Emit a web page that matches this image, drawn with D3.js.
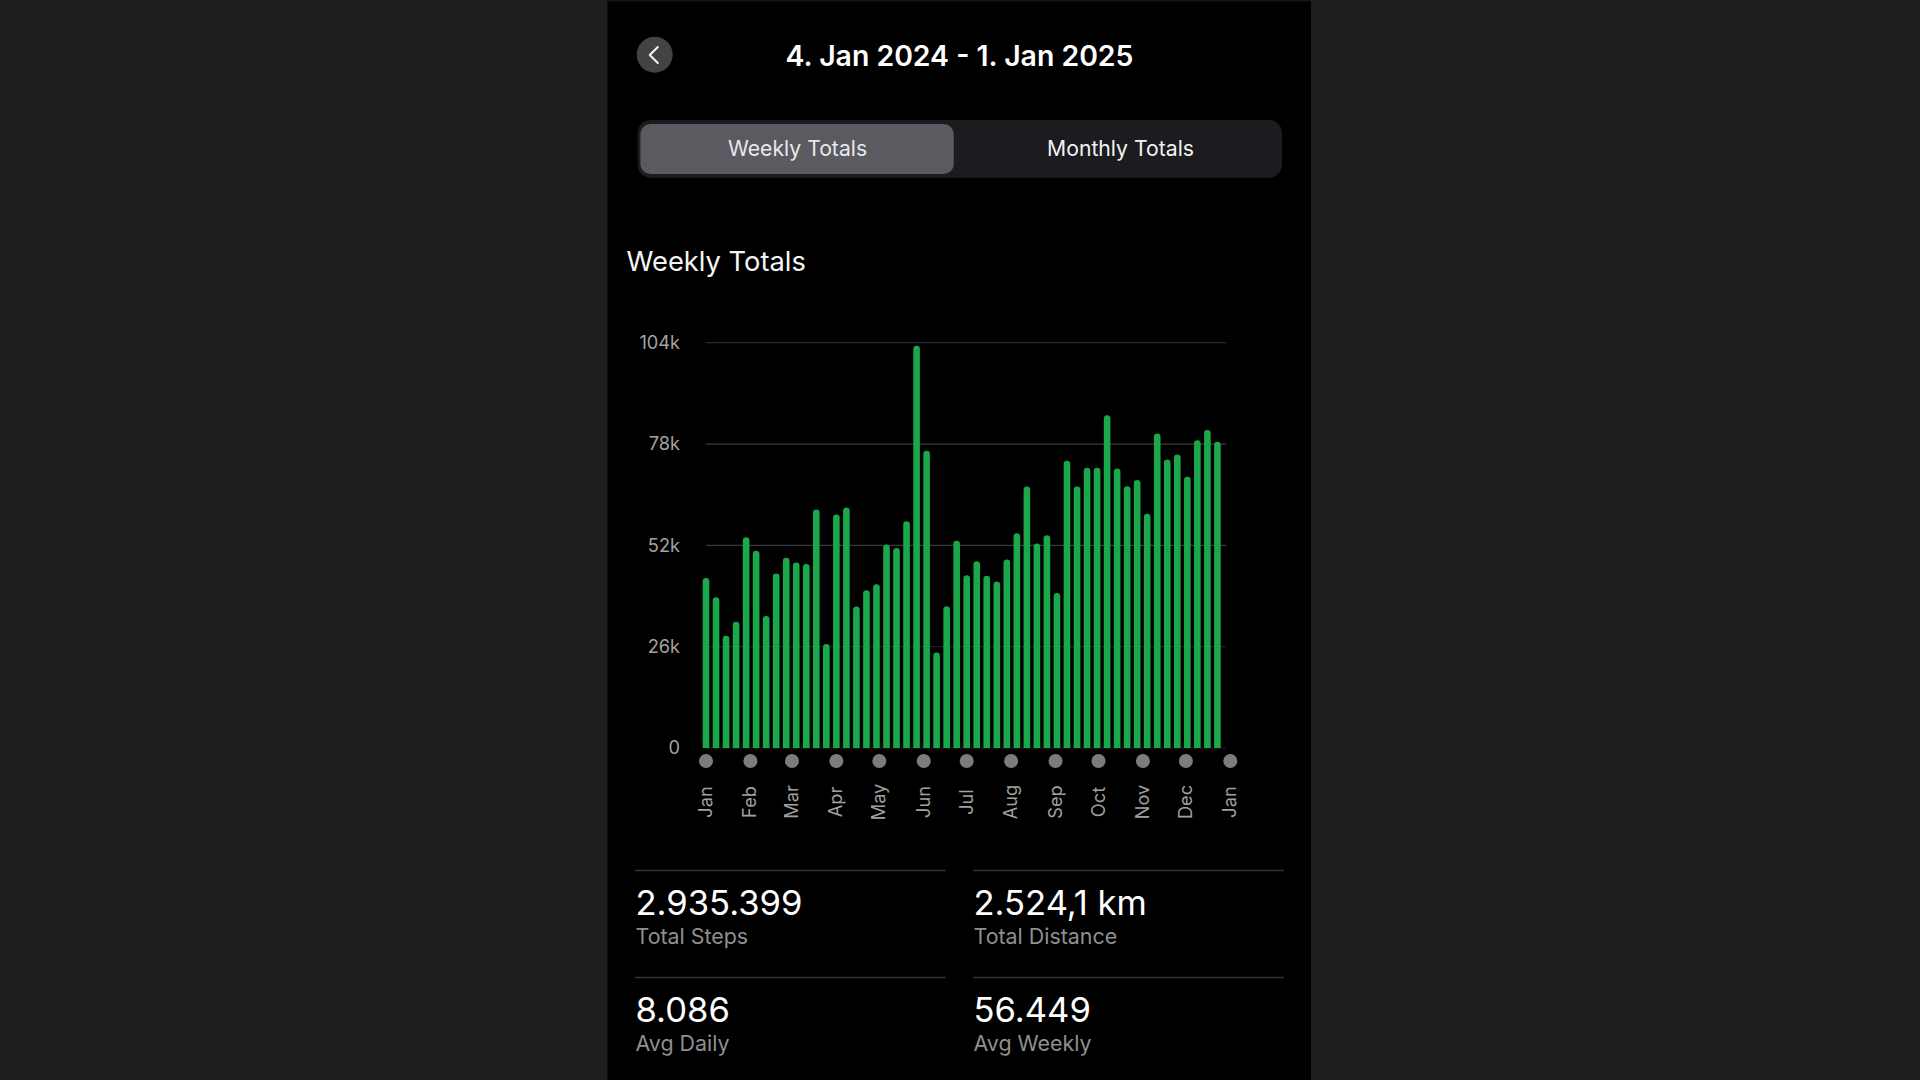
<!DOCTYPE html>
<html><head><meta charset="utf-8">
<script src="https://cdn.jsdelivr.net/npm/d3@7"></script>
<style>
html,body{margin:0;padding:0;background:#1c1e20;overflow:hidden}
svg{display:block}
text{font-family:Inter,Roboto,"Noto Sans",sans-serif}
</style></head><body><svg id="c" width="1920" height="1080"></svg>
<script>
const weekStarts=["2024-01-01","2024-01-08","2024-01-15","2024-01-22","2024-01-29","2024-02-05","2024-02-12","2024-02-19","2024-02-26","2024-03-04","2024-03-11","2024-03-18","2024-03-25","2024-04-01","2024-04-08","2024-04-15","2024-04-22","2024-04-29","2024-05-06","2024-05-13","2024-05-20","2024-05-27","2024-06-03","2024-06-10","2024-06-17","2024-06-24","2024-07-01","2024-07-08","2024-07-15","2024-07-22","2024-07-29","2024-08-05","2024-08-12","2024-08-19","2024-08-26","2024-09-02","2024-09-09","2024-09-16","2024-09-23","2024-09-30","2024-10-07","2024-10-14","2024-10-21","2024-10-28","2024-11-04","2024-11-11","2024-11-18","2024-11-25","2024-12-02","2024-12-09","2024-12-16","2024-12-23"];
const weeklySteps=[43600,38700,28800,32400,54100,50600,33900,44800,48800,47600,47200,61200,26700,59900,61700,36300,40500,42000,52200,51300,58200,103200,76300,24500,36400,53200,44300,47900,44200,42700,48400,55100,67100,52500,54600,39800,73700,67100,71900,71900,85400,71700,67200,68800,60100,80700,74000,75300,69600,79000,81600,78600];
const monthTicks=["2024-01-01","2024-02-01","2024-03-01","2024-04-01","2024-05-01","2024-06-01","2024-07-01","2024-08-01","2024-09-01","2024-10-01","2024-11-01","2024-12-01","2025-01-01"];
const monthLabels=["Jan","Feb","Mar","Apr","May","Jun","Jul","Aug","Sep","Oct","Nov","Dec","Jan"];
const yTicks=[0,26000,52000,78000,104000];
const yTickLabels=["0","26k","52k","78k","104k"];
const statLabels=["Total Steps","Total Distance","Avg Daily","Avg Weekly"];
const statValues=["2.935.399","2.524,1 km","8.086","56.449"];
const segments=["Weekly Totals","Monthly Totals"];
const titleText="4. Jan 2024 - 1. Jan 2025";
const heading="Weekly Totals";

const parse=d3.utcParse("%Y-%m-%d");
const svg=d3.select("#c");
svg.append("rect").attr("x",607.5).attr("y",0).attr("width",703.5).attr("height",1080).attr("fill","#000");
svg.append("rect").attr("x",607.5).attr("y",0).attr("width",703.5).attr("height",1.5).attr("fill","#141517");

// header
svg.append("circle").attr("cx",654.7).attr("cy",54.7).attr("r",18).attr("fill","#434345");
svg.append("path").attr("d","M657.8 47 L649.8 55 L657.8 63").attr("fill","none").attr("stroke","#f2f2f2").attr("stroke-width",2.1).attr("stroke-linecap","round").attr("stroke-linejoin","round");
svg.append("text").attr("x",959.5).attr("y",65.5).attr("text-anchor","middle").attr("fill","#fff").attr("font-size",28.4).attr("font-weight",600).text(titleText);

// segmented control
svg.append("rect").attr("x",637.7).attr("y",120).attr("width",644.3).attr("height",57.7).attr("rx",13).attr("fill","#1c1c20");
svg.append("rect").attr("x",640.4).attr("y",124).attr("width",313.4).attr("height",50).attr("rx",10).attr("fill","#5a5a60");
svg.selectAll(".seg").data(segments).join("text").attr("class","seg")
  .attr("x",(d,i)=>i?1120.5:797.5).attr("y",155.8).attr("text-anchor","middle").attr("fill",(d,i)=>i?"#f2f2f2":"#e8e8ea").attr("font-size",21.2).text(d=>d);
svg.append("text").attr("x",626.5).attr("y",270.7).attr("fill","#f5f5f5").attr("font-size",27.3).text(heading);

// chart
const x=d3.scaleUtc().domain([parse("2024-01-01"),parse("2025-01-01")]).range([706,1230.3]);
const y=d3.scaleLinear().domain([0,104000]).range([748,342.7]);
const barW=6.6;

const yAxis=d3.axisLeft(y).tickValues(yTicks).tickFormat((d,i)=>yTickLabels[i]).tickSize(0).tickPadding(0).offset(0);
const gy=svg.append("g").attr("transform","translate(680,0)").call(yAxis);
gy.select(".domain").remove();
gy.selectAll("text").attr("fill","#a3a3a3").attr("font-size",18.2).attr("font-family","Inter,Roboto,sans-serif").attr("dy","0.34em");

svg.append("g").selectAll("line").data(yTicks).join("line")
  .attr("x1",706).attr("x2",1226).attr("y1",d=>y(d)).attr("y2",d=>y(d))
  .attr("stroke",d=>d===104000?"#2a2a2a":d===26000?"#1f1f1f":d===0?"#222":"#3a3a3a").attr("stroke-width",1.2);

const barPath=d=>{const cx=x(parse(d.date)),t=y(d.v),b=y(0),r=barW/2;
  return `M${cx-r} ${b}V${t+r}A${r} ${r} 0 0 1 ${cx+r} ${t+r}V${b}Z`;};
svg.append("g").selectAll("path").data(weekStarts.map((date,i)=>({date,v:weeklySteps[i]}))).join("path")
  .attr("d",barPath).attr("fill","#1aa84a");

const xAxis=d3.axisBottom(x).tickValues(monthTicks.map(parse)).tickFormat((d,i)=>monthLabels[i]).tickSize(0).offset(0);
const gx=svg.append("g").attr("transform","translate(0,761)").call(xAxis);
gx.select(".domain").remove();
gx.selectAll(".tick").append("circle").attr("r",7).attr("fill","#7c7c7c");
gx.selectAll("text").attr("fill","#a0a0a0").attr("font-size",18.2).attr("font-family","Inter,Roboto,sans-serif")
  .attr("text-anchor","middle").attr("dy",0).attr("y",0)
  .attr("transform","translate(6,41) rotate(-90)");

// stats
const cols=[{l:635,r:945.7,t:635.5},{l:973,r:1284,t:973.5}];
const rows=[{line:870.5,v:915,s:944},{line:977.5,v:1022,s:1051}];
statValues.forEach((v,i)=>{
  const c=cols[i%2],r=rows[i>>1];
  svg.append("line").attr("x1",c.l).attr("x2",c.r).attr("y1",r.line).attr("y2",r.line).attr("stroke","#333").attr("stroke-width",1.6);
  svg.append("text").attr("x",c.t).attr("y",r.v).attr("fill","#fff").attr("font-size",34.6).text(v);
  svg.append("text").attr("x",c.t).attr("y",r.s).attr("fill","#8f8f8f").attr("font-size",21.4).text(statLabels[i]);
});
</script></body></html>
